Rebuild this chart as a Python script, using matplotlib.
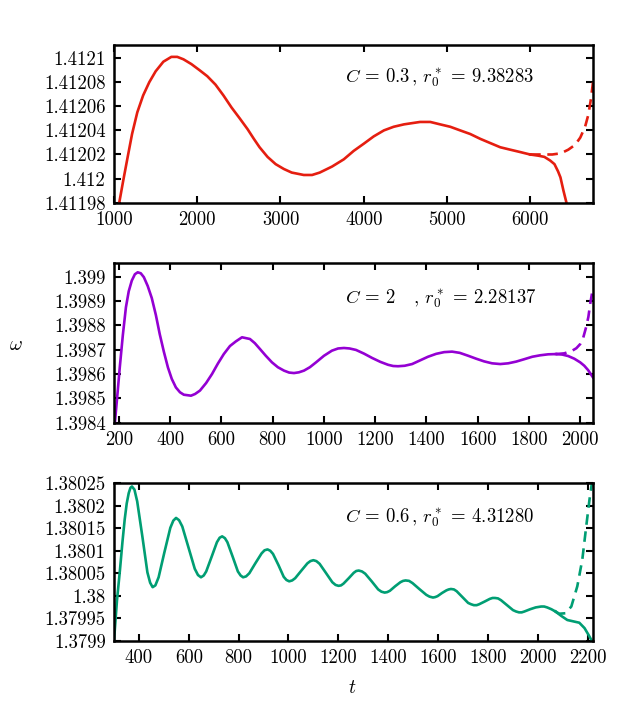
import matplotlib
matplotlib.use("Agg")
import matplotlib.pyplot as plt
from matplotlib.ticker import FixedLocator, FixedFormatter

plt.rcParams['font.family'] = 'serif'
plt.rcParams['font.serif'] = ['cmr10', 'DejaVu Serif']
plt.rcParams['mathtext.fontset'] = 'cm'
plt.rcParams['axes.unicode_minus'] = False

# ---- data ----
# C = 0.3 panel
t_a = [1063, 1110, 1159, 1217, 1280, 1350, 1424, 1500, 1593, 1689, 1760, 1834,
       1930, 2027, 2120, 2219, 2315, 2412, 2510, 2605, 2680, 2749, 2845, 2942,
       3040, 3135, 3280, 3380, 3472, 3620, 3761, 3880, 4002, 4120, 4243, 4360,
       4484, 4580, 4677, 4800, 4918, 5040, 5159, 5280, 5400, 5520, 5641, 5760,
       5882, 5940, 6000]
w_a = [1.41198, 1.411998, 1.412016, 1.412037, 1.412055, 1.412069, 1.41208,
       1.412089, 1.412097, 1.412101, 1.412101, 1.412099, 1.412095, 1.412090,
       1.412085, 1.412078, 1.412069, 1.412059, 1.412050, 1.412041, 1.412033,
       1.412026, 1.412018, 1.412012, 1.412008, 1.412005, 1.412003, 1.412003,
       1.412005, 1.412010, 1.412016, 1.412023, 1.412029, 1.412035, 1.412040,
       1.412043, 1.412045, 1.412046, 1.412047, 1.412047, 1.412045, 1.412043,
       1.412040, 1.412037, 1.412033, 1.4120295, 1.412026, 1.412024, 1.412022,
       1.412021, 1.412020]
t_a_solid = [6000, 6100, 6171, 6240, 6292, 6335, 6364, 6400, 6436, 6455]
w_a_solid = [1.412020, 1.412019, 1.412018, 1.412015, 1.412012, 1.412006,
             1.412001, 1.41199, 1.41198, 1.41197]
t_a_dash = [6000, 6120, 6265, 6370, 6458, 6540, 6602, 6660, 6699, 6730, 6755]
w_a_dash = [1.412020, 1.412020, 1.412020, 1.412021, 1.412024, 1.412028,
            1.412034, 1.412043, 1.412053, 1.412066, 1.412080]

# C = 2 panel
t_b = [184, 195, 203, 215, 227, 238, 250, 262, 273, 285, 297, 312, 328, 344,
       359, 375, 391, 406, 422, 438, 453, 481, 497, 516, 540, 563, 586, 609,
       633, 656, 680, 711, 730, 750, 773, 797, 820, 844, 864, 883, 902, 922,
       945, 969, 1000, 1031, 1055, 1078, 1100, 1125, 1156, 1188, 1220, 1250,
       1270, 1289, 1315, 1344, 1375, 1406, 1438, 1469, 1500, 1530, 1563, 1594,
       1625, 1656, 1688, 1719, 1750, 1782, 1813, 1844, 1875, 1906]
w_b = [1.3984, 1.39853, 1.398627, 1.39876, 1.398874, 1.39894, 1.398984,
       1.399010, 1.399018, 1.399014, 1.398998, 1.398962, 1.398912, 1.398842,
       1.398764, 1.398692, 1.398627, 1.398580, 1.398545, 1.398525, 1.398515,
       1.398511, 1.398518, 1.398532, 1.398563, 1.398600, 1.398643, 1.398682,
       1.398715, 1.398734, 1.398751, 1.398744, 1.398727, 1.398703, 1.398675,
       1.398648, 1.398628, 1.398614, 1.398606, 1.398604, 1.398607, 1.398614,
       1.398628, 1.398648, 1.398675, 1.398696, 1.398705, 1.398707, 1.398705,
       1.398699, 1.398684, 1.398666, 1.398650, 1.398638, 1.398633, 1.398632,
       1.398634, 1.398641, 1.398656, 1.398671, 1.398683, 1.398690, 1.398692,
       1.398687, 1.398675, 1.398663, 1.398652, 1.398644, 1.398641, 1.398644,
       1.398651, 1.398661, 1.398671, 1.398677, 1.398681, 1.398682]
t_b_solid = [1906, 1930, 1953, 1977, 2000, 2016, 2031, 2050]
w_b_solid = [1.398682, 1.398680, 1.398674, 1.398663, 1.398648, 1.398634,
             1.398616, 1.398586]
t_b_dash = [1906, 1938, 1969, 1985, 2000, 2012, 2023, 2032, 2039, 2050]
w_b_dash = [1.398682, 1.398685, 1.398696, 1.398706, 1.398723, 1.398750,
            1.398792, 1.398835, 1.398888, 1.398955]

# C = 0.6 panel
t_c = [300, 312, 324, 334, 343, 351, 359, 366, 372, 382, 393, 414, 434, 445,
       455, 466, 479, 502, 526, 538, 549, 561, 574, 599, 624, 637, 649, 660,
       670, 692, 713, 724, 734, 745, 755, 776, 797, 808, 818, 830, 843, 867,
       892, 904, 916, 927, 938, 960, 981, 992, 1003, 1015, 1027, 1052, 1076,
       1088, 1100, 1112, 1125, 1150, 1176, 1189, 1201, 1211, 1221, 1242, 1262,
       1272, 1282, 1295, 1308, 1334, 1360, 1373, 1386, 1396, 1407, 1428, 1449,
       1460, 1470, 1484, 1498, 1525, 1553, 1566, 1580, 1589, 1598, 1616, 1634,
       1643, 1652, 1664, 1675, 1698, 1721, 1733, 1744, 1755, 1765, 1787, 1808,
       1819, 1829, 1841, 1853, 1877, 1901, 1913, 1925, 1936, 1947, 1970, 1992,
       2003, 2014, 2026, 2038, 2055, 2071]
w_c = [1.37990, 1.37999, 1.380058, 1.38012, 1.38017, 1.380205, 1.380228,
       1.380240, 1.380243, 1.380236, 1.380210, 1.380131, 1.380052, 1.380029,
       1.380019, 1.380023, 1.380041, 1.380096, 1.380151, 1.380167, 1.380173,
       1.380168, 1.380154, 1.380107, 1.380060, 1.380046, 1.380041, 1.380045,
       1.380054, 1.380087, 1.380119, 1.380129, 1.380132, 1.380128, 1.380119,
       1.380087, 1.380054, 1.380045, 1.380041, 1.380043, 1.380050, 1.380072,
       1.380094, 1.380101, 1.380103, 1.380100, 1.380093, 1.380068, 1.380042,
       1.380035, 1.380032, 1.380034, 1.380039, 1.380056, 1.380072, 1.380077,
       1.380079, 1.380077, 1.380071, 1.380051, 1.380030, 1.380024, 1.380022,
       1.380023, 1.380027, 1.380039, 1.380051, 1.380055, 1.380056, 1.380054,
       1.380049, 1.380032, 1.380014, 1.380009, 1.380007, 1.380008, 1.380011,
       1.380021, 1.380030, 1.380033, 1.380034, 1.380033, 1.380028, 1.380015,
       1.380002, 1.379998, 1.379996, 1.379997, 1.379999, 1.380006, 1.380012,
       1.380014, 1.380015, 1.380014, 1.380010, 1.379997, 1.379984, 1.379981,
       1.379979, 1.379979, 1.379981, 1.379987, 1.379993, 1.379995, 1.379995,
       1.379994, 1.379990, 1.379979, 1.379968, 1.379965, 1.379963, 1.379963,
       1.379965, 1.379970, 1.379974, 1.379975, 1.379976, 1.379976, 1.379974,
       1.379970, 1.379965]
t_c_solid = [2071, 2095, 2119, 2143, 2167, 2188, 2204, 2217, 2222]
w_c_solid = [1.379965, 1.379955, 1.379946, 1.379943, 1.379940, 1.379928,
             1.379913, 1.379900, 1.379895]
t_c_dash = [2071, 2087, 2111, 2135, 2159, 2179, 2195, 2208, 2217, 2222]
w_c_dash = [1.379965, 1.379960, 1.379961, 1.379976, 1.380021, 1.380080,
            1.380155, 1.380214, 1.380248, 1.380270]

xt_a = [1000, 2000, 3000, 4000, 5000, 6000]
yt_a = [1.41198, 1.412, 1.41202, 1.41204, 1.41206, 1.41208, 1.4121]
yl_a = ['1.41198', '1.412', '1.41202', '1.41204', '1.41206', '1.41208', '1.4121']
xt_b = [200, 400, 600, 800, 1000, 1200, 1400, 1600, 1800, 2000]
yt_b = [1.3984, 1.3985, 1.3986, 1.3987, 1.3988, 1.3989, 1.399]
yl_b = ['1.3984', '1.3985', '1.3986', '1.3987', '1.3988', '1.3989', '1.399']
xt_c = [400, 600, 800, 1000, 1200, 1400, 1600, 1800, 2000, 2200]
yt_c = [1.3799, 1.37995, 1.38, 1.38005, 1.3801, 1.38015, 1.3802, 1.38025]
yl_c = ['1.3799', '1.37995', '1.38', '1.38005', '1.3801', '1.38015', '1.3802', '1.38025']

labels = [r'$C\,=\,0.3\,,\, r_0^*\,=\,9.38283$',
          r'$C\,=\,2\quad\,,\, r_0^*\,=\,2.28137$',
          r'$C\,=\,0.6\,,\, r_0^*\,=\,4.31280$']

# ---- figure ----
W, H = 627, 702
fig = plt.figure(figsize=(W / 100, H / 100), dpi=100)

def box(l, t, r, b):
    return [l / W, 1 - b / H, (r - l) / W, (b - t) / H]

panels = [
    dict(rect=box(114, 44.7, 593, 202.7), color='#e51e10',
         main=(t_a, w_a), solid=(t_a_solid, w_a_solid), dash=(t_a_dash, w_a_dash),
         xlim=(1000, 6755), ylim=(1.41198, 1.4121111),
         xt=xt_a, yt=yt_a, yl=yl_a, ty=0.79),
    dict(rect=box(114, 263.3, 593, 422.7), color='#9400d3',
         main=(t_b, w_b), solid=(t_b_solid, w_b_solid), dash=(t_b_dash, w_b_dash),
         xlim=(180.5, 2050), ylim=(1.3984, 1.399055),
         xt=xt_b, yt=yt_b, yl=yl_b, ty=0.78),
    dict(rect=box(114, 483.3, 593, 640.7), color='#009e73',
         main=(t_c, w_c), solid=(t_c_solid, w_c_solid), dash=(t_c_dash, w_c_dash),
         xlim=(300, 2222), ylim=(1.3799, 1.38025),
         xt=xt_c, yt=yt_c, yl=yl_c, ty=0.78),
]

for p, lab in zip(panels, labels):
    ax = fig.add_axes(p['rect'])
    ax.plot(*p['main'], color=p['color'], lw=1.9, solid_joinstyle='round')
    ax.plot(*p['solid'], color=p['color'], lw=1.9, solid_joinstyle='round')
    ax.plot(*p['dash'], color=p['color'], lw=1.9, ls=(0, (4, 2.5)))
    ax.set_xlim(*p['xlim'])
    ax.set_ylim(*p['ylim'])
    ax.xaxis.set_major_locator(FixedLocator(p['xt']))
    ax.xaxis.set_major_formatter(FixedFormatter([str(v) for v in p['xt']]))
    ax.yaxis.set_major_locator(FixedLocator(p['yt']))
    ax.yaxis.set_major_formatter(FixedFormatter(p['yl']))
    ax.tick_params(direction='in', length=5, width=1.5, top=True, right=True,
                   labelsize=13.5, pad=6)
    for s in ax.spines.values():
        s.set_linewidth(1.8)
    ax.text(0.482, p['ty'], lab, transform=ax.transAxes, fontsize=13.5,
            va='center', ha='left')

fig.text(16 / W, 1 - 345 / H, r'$\omega$', fontsize=14, ha='center', va='center')
fig.text(352 / W, 1 - 688 / H, r'$t$', fontsize=14, ha='center', va='center')

fig.savefig('out.png', dpi=100)
